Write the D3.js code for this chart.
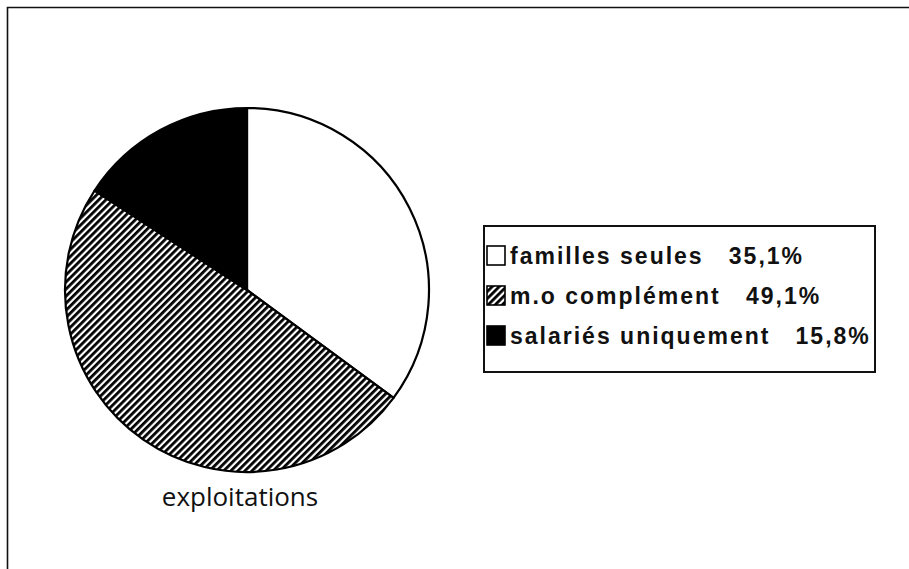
<!DOCTYPE html>
<html>
<head>
<meta charset="utf-8">
<script src="https://cdn.jsdelivr.net/npm/d3@7"></script>
<style>
  html, body { margin: 0; padding: 0; background: #fff; }
  svg { display: block; }
</style>
</head>
<body>
<svg id="chart" width="909" height="569"></svg>
<script>
// Main-d'oeuvre des exploitations (%)
const categories = ["familles seules", "m.o complément", "salariés uniquement"];
const values = [35.1, 49.1, 15.8];
const fills = ["white", "url(#hatch)", "black"];
const caption = "exploitations";

const svg = d3.select("#chart");
const W = 909, H = 569;

// diagonal hatch pattern
const defs = svg.append("defs");
const pat = defs.append("pattern")
  .attr("id", "hatch")
  .attr("patternUnits", "userSpaceOnUse")
  .attr("width", 5).attr("height", 5)
  .attr("patternTransform", "rotate(45)");
pat.append("rect").attr("width", 5).attr("height", 5).attr("fill", "white");
pat.append("rect").attr("x", 0).attr("width", 2.8).attr("height", 5).attr("fill", "black");

// outer frame (top and left edges)
svg.append("path")
  .attr("d", `M7.5,${H} L7.5,7.5 L${W},7.5`)
  .attr("fill", "none").attr("stroke", "#111").attr("stroke-width", 1.6);

// pie
const cx = 247, cy = 290, r = 182;
const pie = d3.pie().sort(null).value(d => d)(values);
const arc = d3.arc().innerRadius(0).outerRadius(r);
const g = svg.append("g").attr("transform", `translate(${cx},${cy})`);
g.selectAll("path.slice").data(pie).join("path")
  .attr("class", "slice")
  .attr("d", arc)
  .attr("fill", (d, i) => fills[i])
  .attr("stroke", "black")
  .attr("stroke-width", 2.2)
  .attr("stroke-linejoin", "round");

svg.append("text")
  .attr("x", 240).attr("y", 506)
  .attr("text-anchor", "middle")
  .attr("font-family", "'Open Sans', 'DejaVu Sans', sans-serif")
  .attr("font-size", 26)
  .attr("fill", "#111")
  .text(caption);

// legend
const fmt = v => d3.format(".1f")(v).replace(".", ",") + "%";
const lx = 484, ly = 226, lw = 391, lh = 146;
const leg = svg.append("g");
leg.append("rect")
  .attr("x", lx).attr("y", ly).attr("width", lw).attr("height", lh)
  .attr("fill", "white").attr("stroke", "#111").attr("stroke-width", 2);

const rowY = d3.scalePoint().domain(categories).range([256, 336]);
const rows = leg.selectAll("g.row").data(categories).join("g")
  .attr("class", "row")
  .attr("transform", d => `translate(0,${rowY(d)})`);
rows.append("rect")
  .attr("x", 487).attr("y", -10).attr("width", 18).attr("height", 19)
  .attr("fill", (d, i) => fills[i])
  .attr("stroke", "black").attr("stroke-width", 1.6);
rows.append("text")
  .attr("x", 510).attr("y", 8)
  .attr("font-family", "'Liberation Sans', Arial, sans-serif")
  .attr("font-weight", "bold")
  .attr("font-size", 23)
  .attr("letter-spacing", 2)
  .attr("fill", "#111")
  .attr("xml:space", "preserve")
  .style("white-space", "pre")
  .text((d, i) => `${d}   ${fmt(values[i])}`);
</script>
</body>
</html>
